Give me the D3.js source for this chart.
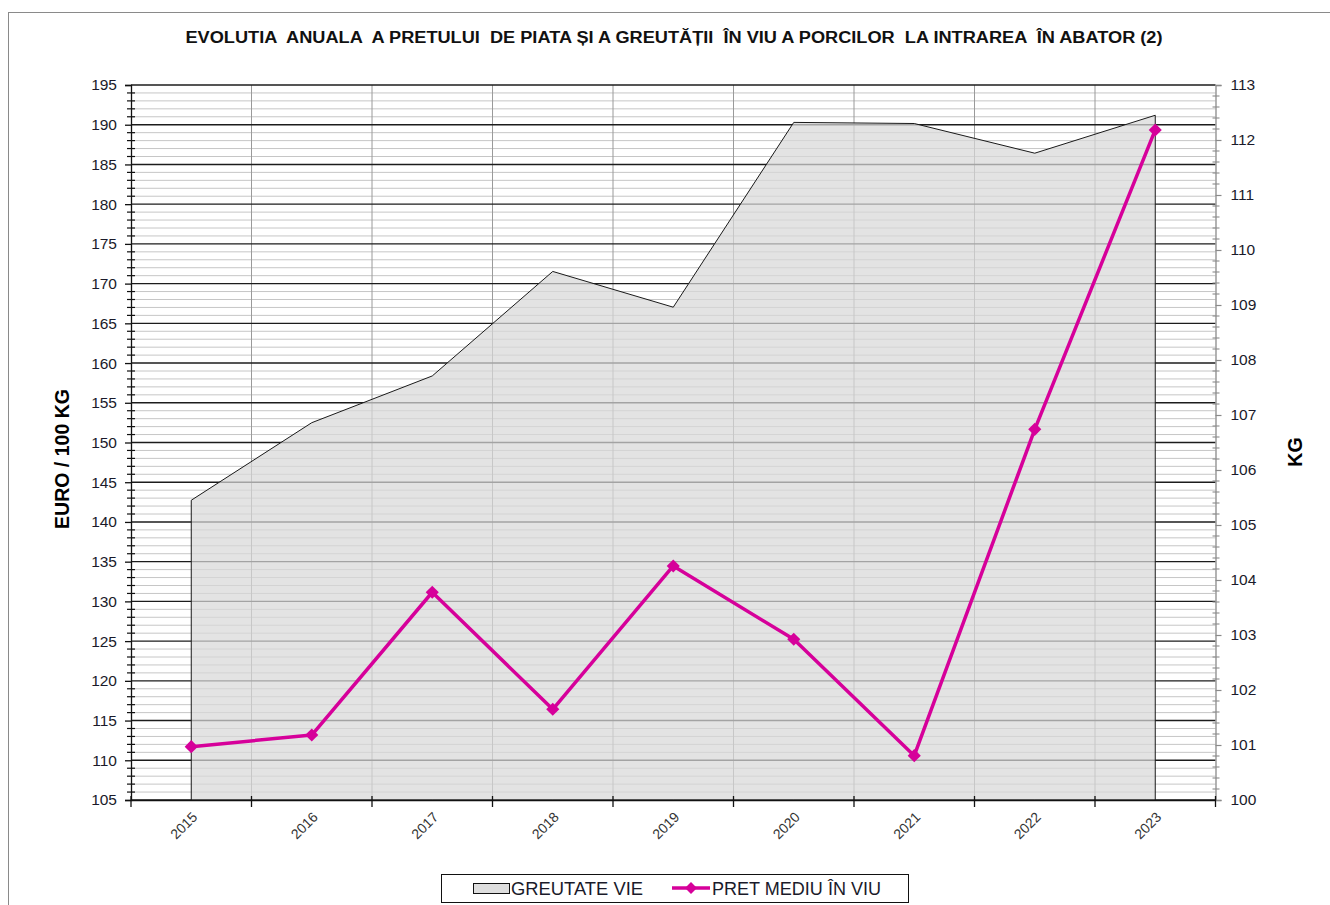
<!DOCTYPE html>
<html>
<head>
<meta charset="utf-8">
<script src="https://cdn.jsdelivr.net/npm/d3@7"></script>
<style>
  body { margin: 0; background: #fff; }
  svg { display: block; font-family: Arial, "Liberation Sans", sans-serif; }
</style>
</head>
<body>
<script>
    // values
    let years = ["2015", "2016", "2017", "2018", "2019", "2020", "2021", "2022", "2023"];
    let greutateVie = [105.45, 106.86, 107.71, 109.61, 108.96, 112.32, 112.30, 111.76, 112.45];
    let pretMediu = [111.71, 113.18, 131.15, 116.42, 134.46, 125.23, 110.58, 151.66, 189.34];
    let leftTicks = d3.range(105, 196, 5);
    let rightTicks = d3.range(100, 114, 1);
    let leftMinor = d3.range(105, 196, 1).filter((v) => v % 5 != 0);
    let rightMinor = d3.range(100, 113, 0.2).map((v) => +v.toFixed(1)).filter((v) => Math.abs(v - Math.round(v)) > 0.01);

    let title = "EVOLUTIA  ANUALA  A PRETULUI  DE PIATA ȘI A GREUTĂȚII  ÎN VIU A PORCILOR  LA INTRAREA  ÎN ABATOR (2)";
    let magenta = "#d6009a";

    let width = 1330, height = 905;
    let plot = {"left": 131, "right": 1215.5, "top": 85, "bottom": 800};

    const svg = d3.select("body")
      .append("svg")
      .attr("width", width)
      .attr("height", height);

    // chart border
    svg.append("rect")
      .attr("x", 8.5).attr("y", 12.5)
      .attr("width", 1400).attr("height", 1000)
      .attr("fill", "none")
      .attr("stroke", "#8a8a8a");

    svg.append("text")
      .text(title)
      .attr("x", 674)
      .attr("y", 43)
      .attr("text-anchor", "middle")
      .attr("textLength", 977)
      .attr("lengthAdjust", "spacingAndGlyphs")
      .style("white-space", "pre")
      .style("font-size", 16)
      .style("font-weight", "bold")
      .attr("fill", "#111");

    let x = d3.scaleBand()
      .domain(years)
      .range([plot.left, plot.right]);
    let cx = (d) => x(d) + x.bandwidth() / 2;

    let yLeft = d3.scaleLinear().domain([105, 195]).range([plot.bottom, plot.top]);
    let yRight = d3.scaleLinear().domain([100, 113]).range([plot.bottom, plot.top]);

    // grid
    let grid = svg.append("g");
    grid.selectAll(".minor")
      .data(leftMinor)
      .enter()
      .append("line")
      .attr("x1", plot.left).attr("x2", plot.right)
      .attr("y1", (d) => yLeft(d)).attr("y2", (d) => yLeft(d))
      .attr("stroke", "#c6c6c6")
      .attr("stroke-width", 1);

    grid.selectAll(".vert")
      .data(years.slice(1))
      .enter()
      .append("line")
      .attr("x1", (d) => x(d)).attr("x2", (d) => x(d))
      .attr("y1", plot.top).attr("y2", plot.bottom)
      .attr("stroke", "#9a9a9a")
      .attr("stroke-width", 1);

    grid.selectAll(".major")
      .data(leftTicks)
      .enter()
      .append("line")
      .attr("x1", plot.left).attr("x2", plot.right)
      .attr("y1", (d) => yLeft(d)).attr("y2", (d) => yLeft(d))
      .attr("stroke", "#1c1c1c")
      .attr("stroke-width", 1.4);

    // area (right axis)
    let area = d3.area()
      .x((d, i) => cx(years[i]))
      .y0(plot.bottom)
      .y1((d) => yRight(d));

    svg.append("path")
      .datum(greutateVie)
      .attr("d", area)
      .attr("fill", "#d8d8d8")
      .attr("fill-opacity", 0.72)
      .attr("stroke", "#1a1a1a")
      .attr("stroke-width", 1);

    // axes
    let leftAxis = svg.append("g")
      .attr("transform", "translate(" + plot.left + ",0)")
      .call(d3.axisLeft(yLeft).tickValues(leftTicks).tickSize(6).tickPadding(8).tickFormat(d3.format("d")));
    leftAxis.select(".domain").attr("stroke", "#111").attr("stroke-width", 1.3);
    leftAxis.selectAll(".tick line").attr("stroke", "#111").attr("stroke-width", 1.3);
    leftAxis.selectAll("text").style("font-size", 15.5).attr("fill", "#1a1a2a");

    leftAxis.selectAll(".mtick")
      .data(leftMinor)
      .enter()
      .append("line")
      .attr("x1", -4).attr("x2", 4)
      .attr("y1", (d) => yLeft(d)).attr("y2", (d) => yLeft(d))
      .attr("stroke", "#111")
      .attr("stroke-width", 1.2);

    let rightAxis = svg.append("g")
      .attr("transform", "translate(" + plot.right + ",0)")
      .call(d3.axisRight(yRight).tickValues(rightTicks).tickSize(6).tickPadding(9).tickFormat(d3.format("d")));
    rightAxis.select(".domain").attr("stroke", "#8a8a8a").attr("stroke-width", 1.3);
    rightAxis.selectAll(".tick line").attr("stroke", "#8a8a8a").attr("stroke-width", 1.2);
    rightAxis.selectAll("text").style("font-size", 15.5).attr("fill", "#1a1a2a");

    rightAxis.selectAll(".mtick")
      .data(rightMinor)
      .enter()
      .append("line")
      .attr("x1", -3).attr("x2", 4)
      .attr("y1", (d) => yRight(d)).attr("y2", (d) => yRight(d))
      .attr("stroke", "#8a8a8a")
      .attr("stroke-width", 1.1);

    let xAxis = svg.append("g")
      .attr("transform", "translate(0," + plot.bottom + ")")
      .call(d3.axisBottom(x).tickSize(0).tickPadding(0));
    xAxis.select(".domain").attr("stroke", "#111").attr("stroke-width", 1.3);
    xAxis.selectAll(".tick text")
      .style("font-size", 14)
      .attr("fill", "#333")
      .attr("text-anchor", "end")
      .attr("dy", 0)
      .attr("transform", "translate(7,18) rotate(-45)");

    xAxis.selectAll(".xtick")
      .data(years.concat(["end"]))
      .enter()
      .append("line")
      .attr("x1", (d) => d == "end" ? plot.right : x(d))
      .attr("x2", (d) => d == "end" ? plot.right : x(d))
      .attr("y1", -4).attr("y2", 7)
      .attr("stroke", "#111")
      .attr("stroke-width", 1.3);

    // price line (left axis)
    let line = d3.line()
      .x((d, i) => cx(years[i]))
      .y((d) => yLeft(d));

    svg.append("path")
      .datum(pretMediu)
      .attr("d", line)
      .attr("fill", "none")
      .attr("stroke", magenta)
      .attr("stroke-width", 3.5)
      .attr("stroke-linejoin", "round");

    svg.selectAll(".marker")
      .data(pretMediu)
      .enter()
      .append("path")
      .attr("d", d3.symbol().type(d3.symbolDiamond2).size(110))
      .attr("transform", (d, i) => "translate(" + cx(years[i]) + "," + yLeft(d) + ")")
      .attr("fill", magenta);

    // axis titles
    svg.append("text")
      .text("EURO / 100 KG")
      .attr("text-anchor", "middle")
      .attr("transform", "translate(69,459) rotate(-90)")
      .style("font-size", 19.5)
      .style("font-weight", "bold")
      .attr("fill", "#000");

    svg.append("text")
      .text("KG")
      .attr("text-anchor", "middle")
      .attr("transform", "translate(1302,452) rotate(-90)")
      .style("font-size", 19.5)
      .style("font-weight", "bold")
      .attr("fill", "#000");

    // legend
    let legend = svg.append("g").attr("id", "legend");
    legend.append("rect")
      .attr("x", 441.5).attr("y", 874.5)
      .attr("width", 467).attr("height", 28)
      .attr("fill", "#fff")
      .attr("stroke", "#111");

    legend.append("rect")
      .attr("x", 473.5).attr("y", 883.5)
      .attr("width", 36).attr("height", 10)
      .attr("fill", "#dedede")
      .attr("stroke", "#111");
    legend.append("text")
      .text("GREUTATE VIE")
      .attr("x", 511).attr("y", 895)
      .attr("textLength", 132)
      .attr("lengthAdjust", "spacingAndGlyphs")
      .style("font-size", 17.5)
      .attr("fill", "#1a1a2a");

    legend.append("line")
      .attr("x1", 672).attr("x2", 710)
      .attr("y1", 888).attr("y2", 888)
      .attr("stroke", magenta)
      .attr("stroke-width", 3.5);
    legend.append("path")
      .attr("d", d3.symbol().type(d3.symbolDiamond2).size(90))
      .attr("transform", "translate(691,888)")
      .attr("fill", magenta);
    legend.append("text")
      .text("PRET MEDIU ÎN VIU")
      .attr("x", 712).attr("y", 895)
      .attr("textLength", 169)
      .attr("lengthAdjust", "spacingAndGlyphs")
      .style("font-size", 17.5)
      .attr("fill", "#1a1a2a");
</script>
</body>
</html>
